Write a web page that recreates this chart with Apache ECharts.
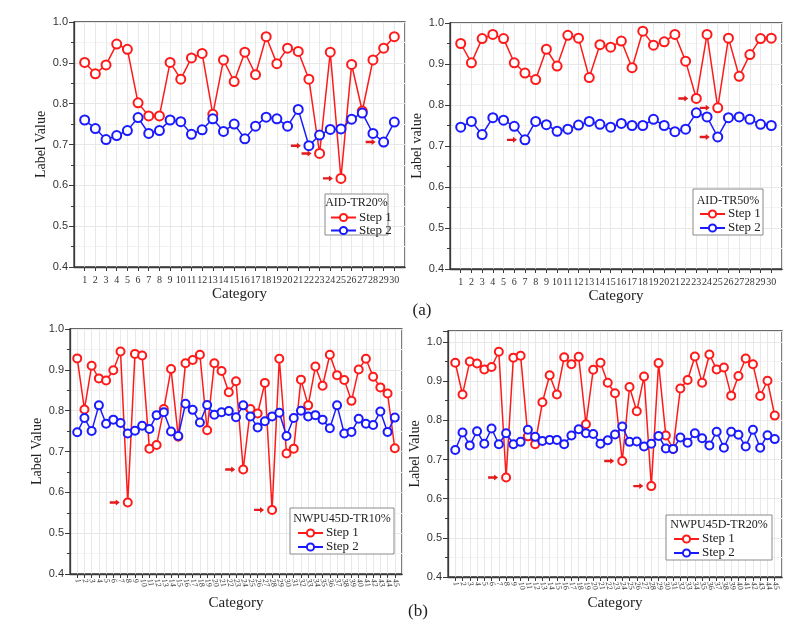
<!DOCTYPE html>
<html><head><meta charset="utf-8">
<script src="https://cdn.jsdelivr.net/npm/echarts@6/dist/echarts.min.js"></script>
<style>html,body{margin:0;padding:0;background:#fff}#c{width:803px;height:636px}</style>
</head><body><div id="c"></div>
<script>
// ---- data ----
const categories30 = Array.from({length:30},(_,i)=>String(i+1));
const categories45 = Array.from({length:45},(_,i)=>String(i+1));
const yTicks = [0.4,0.5,0.6,0.7,0.8,0.9,1.0];

const aid20Step1 = [0.901,0.873,0.895,0.946,0.933,0.802,0.770,0.770,0.901,0.860,0.912,0.923,0.774,0.907,0.854,0.926,0.871,0.964,0.898,0.936,0.928,0.860,0.678,0.926,0.617,0.896,0.782,0.907,0.936,0.964];
const aid20Step2 = [0.760,0.739,0.712,0.722,0.734,0.766,0.727,0.734,0.760,0.756,0.725,0.736,0.763,0.732,0.750,0.714,0.745,0.767,0.763,0.745,0.786,0.697,0.723,0.737,0.738,0.762,0.777,0.727,0.706,0.755];
const aid50Step1 = [0.950,0.903,0.962,0.972,0.962,0.903,0.878,0.862,0.936,0.895,0.970,0.963,0.867,0.947,0.941,0.956,0.891,0.980,0.946,0.954,0.972,0.907,0.816,0.972,0.793,0.963,0.870,0.923,0.962,0.963];
const aid50Step2 = [0.746,0.760,0.728,0.769,0.763,0.748,0.715,0.760,0.752,0.736,0.741,0.751,0.760,0.753,0.746,0.755,0.750,0.750,0.765,0.750,0.735,0.741,0.781,0.771,0.722,0.769,0.771,0.765,0.753,0.750];
const nw10Step1 = [0.928,0.803,0.910,0.879,0.874,0.899,0.945,0.575,0.939,0.935,0.707,0.716,0.804,0.902,0.736,0.916,0.924,0.937,0.752,0.916,0.897,0.845,0.872,0.656,0.804,0.793,0.868,0.557,0.927,0.695,0.707,0.876,0.813,0.908,0.861,0.937,0.887,0.875,0.824,0.901,0.927,0.883,0.857,0.842,0.708];
const nw10Step2 = [0.747,0.782,0.750,0.813,0.768,0.778,0.770,0.744,0.751,0.763,0.755,0.789,0.796,0.749,0.738,0.817,0.802,0.771,0.814,0.790,0.796,0.799,0.784,0.813,0.786,0.759,0.774,0.786,0.795,0.738,0.782,0.800,0.786,0.789,0.778,0.757,0.813,0.744,0.748,0.780,0.768,0.765,0.798,0.748,0.783];
const nw20Step1 = [0.947,0.866,0.950,0.945,0.930,0.936,0.975,0.654,0.960,0.965,0.759,0.739,0.846,0.915,0.866,0.961,0.943,0.962,0.790,0.929,0.947,0.896,0.869,0.696,0.885,0.823,0.912,0.632,0.946,0.761,0.727,0.881,0.903,0.963,0.896,0.968,0.930,0.935,0.863,0.913,0.958,0.943,0.862,0.901,0.812];
const nw20Step2 = [0.724,0.769,0.736,0.772,0.740,0.779,0.739,0.767,0.739,0.745,0.776,0.758,0.747,0.750,0.750,0.739,0.761,0.777,0.767,0.765,0.740,0.749,0.764,0.784,0.745,0.746,0.733,0.740,0.760,0.728,0.727,0.756,0.743,0.767,0.754,0.736,0.771,0.730,0.771,0.763,0.733,0.776,0.730,0.762,0.752];

// arrow-marked categories (1-based)
const aid20Arrows1 = [23,25], aid20Arrows2 = [22,29];
const aid50Arrows1 = [23,25], aid50Arrows2 = [7,25];
const nw10Arrows1 = [8,24,28], nw10Arrows2 = [];
const nw20Arrows1 = [8,24,28], nw20Arrows2 = [];

const legendTitles = ['AID-TR20%','AID-TR50%','NWPU45D-TR10%','NWPU45D-TR20%'];
const seriesNames = ['Step 1','Step 2'];
const yNames = ['Label Value','Label value','Label Value','Label Value'];

// ---- layout ----
const panels = [
  {cats:categories30, s1:aid20Step1, s2:aid20Step2, a1:aid20Arrows1, a2:aid20Arrows2, grid:{left:74,top:22,width:331,height:245}, ymax:1.0, xGap:20,
   box:{x:325,y:194,w:63,h:41,ty:203,lx:330,s1:217,sp:12}, rot:0},
  {cats:categories30, s1:aid50Step1, s2:aid50Step2, a1:aid50Arrows1, a2:aid50Arrows2, grid:{left:450,top:23,width:332,height:246}, ymax:1.0, xGap:20,
   box:{x:693,y:189,w:70,h:46,ty:201,lx:699,s1:214,sp:14}, rot:0},
  {cats:categories45, s1:nw10Step1, s2:nw10Step2, a1:nw10Arrows1, a2:nw10Arrows2, grid:{left:70,top:329,width:332,height:245}, ymax:1.0, xGap:22,
   box:{x:290,y:508,w:104,h:46,ty:519,lx:297,s1:533,sp:14}, rot:-75},
  {cats:categories45, s1:nw20Step1, s2:nw20Step2, a1:nw20Arrows1, a2:nw20Arrows2, grid:{left:448,top:331,width:334,height:246}, ymax:1.028, xGap:19,
   box:{x:666,y:515,w:106,h:45,ty:525,lx:673,s1:539,sp:14}, rot:-75}
];

const arrowPath = 'path://M0,3 L6,3 L6,0 L10,5 L6,10 L6,7 L0,7 Z';
const serif = '"Liberation Serif","DejaVu Serif",serif';
const sans = '"Liberation Sans",Arial,sans-serif';

const grids=[], xAxes=[], yAxes=[], series=[], legends=[], graphics=[];
panels.forEach((p,k)=>{
  const n = p.cats.length;
  const small = n>30;
  grids.push(Object.assign({show:true, borderColor:'#3a3a3a', borderWidth:1.3, backgroundColor:'transparent'}, p.grid));
  xAxes.push({
    type:'value', gridIndex:k, min:0, max:n+1, interval:1,
    name:'Category', nameLocation:'middle', nameGap:p.xGap,
    nameTextStyle:{fontFamily:serif, fontSize:15, color:'#222'},
    axisLine:{lineStyle:{color:'#3a3a3a', width:1.3}},
    axisTick:{show:true, length:4, lineStyle:{color:'#3a3a3a'}},
    axisLabel:{
      fontFamily:serif, fontSize: small?8:10, color:'#333', margin: small?5:8,
      rotate:p.rot, fontStyle: small?'italic':'normal',
      formatter: v => (v>=1 && v<=n) ? p.cats[v-1] : '',
      showMinLabel:false, showMaxLabel:false
    },
    splitLine:{show:true, lineStyle:{color:'#e8e8e8', width:1}}
  });
  yAxes.push({
    type:'value', gridIndex:k, min:0.4, max:p.ymax, interval:0.1,
    name:yNames[k], nameLocation:'middle', nameGap:26,
    nameTextStyle:{fontFamily:serif, fontSize:14, color:'#222'},
    axisLine:{show:true, lineStyle:{color:'#3a3a3a', width:1.3}},
    axisTick:{show:true, length:5, lineStyle:{color:'#3a3a3a'}},
    minorTick:{show:true, splitNumber:2, length:3, lineStyle:{color:'#3a3a3a'}},
    axisLabel:{fontFamily:sans, fontSize:11, color:'#333', margin:6,
      formatter: v => { const t = yTicks.find(q=>Math.abs(q-v)<1e-6); return t===undefined ? '' : t.toFixed(1); }},
    splitLine:{show:true, lineStyle:{color:'#e8e8e8'}},
    minorSplitLine:{show:true, lineStyle:{color:'#f3f3f3'}}
  });
  const mk = (vals, arrows, color, name) => ({
    type:'line', name, xAxisIndex:k, yAxisIndex:k,
    data: vals.map((v,i)=>[i+1, v]),
    symbol:'emptyCircle', symbolSize: small?8:9,
    lineStyle:{color, width:1.5}, itemStyle:{color, borderColor:color, borderWidth:1.4},
    animation:false,
    markPoint:{
      symbol:arrowPath, symbolSize:[10,6], symbolOffset:[-13,0], silent:true,
      itemStyle:{color:'#e31a1c'}, label:{show:false},
      data: arrows.map(c=>({coord:[c, vals[c-1]]}))
    }
  });
  series.push(mk(p.s1, p.a1, '#ff1a1a', seriesNames[0]));
  series.push(mk(p.s2, p.a2, '#1a1aff', seriesNames[1]));
  const b = p.box;
  graphics.push({type:'rect', z:90, shape:{x:b.x, y:b.y, width:b.w, height:b.h},
    style:{fill:'#fff', stroke:'#8a8a8a', lineWidth:1}});
  graphics.push({type:'text', z:100, x:b.x + b.w/2, y:b.ty,
    style:{text:legendTitles[k], font:'12px '+serif, fill:'#222', textAlign:'center', textVerticalAlign:'middle'}});
  legends.push({
    left:b.lx, top:b.s1 - b.sp/2, orient:'vertical', z:100,
    padding:0, itemGap:0, itemWidth:25, itemHeight:9,
    data:seriesNames, selectedMode:false,
    textStyle:{fontFamily:serif, fontSize:13, color:'#222', lineHeight:b.sp, padding:[0,0,0,-2]}
  });
});
graphics.push({type:'text', x:422, y:311, style:{text:'(a)', font:'17px '+serif, fill:'#222', textAlign:'center', textVerticalAlign:'middle'}});
graphics.push({type:'text', x:418, y:612, style:{text:'(b)', font:'17px '+serif, fill:'#222', textAlign:'center', textVerticalAlign:'middle'}});

const chart = echarts.init(document.getElementById('c'));
chart.setOption({
  animation:false, backgroundColor:'#fff',
  grid:grids, xAxis:xAxes, yAxis:yAxes, series, legend:legends, graphic:graphics
});
</script></body></html>
